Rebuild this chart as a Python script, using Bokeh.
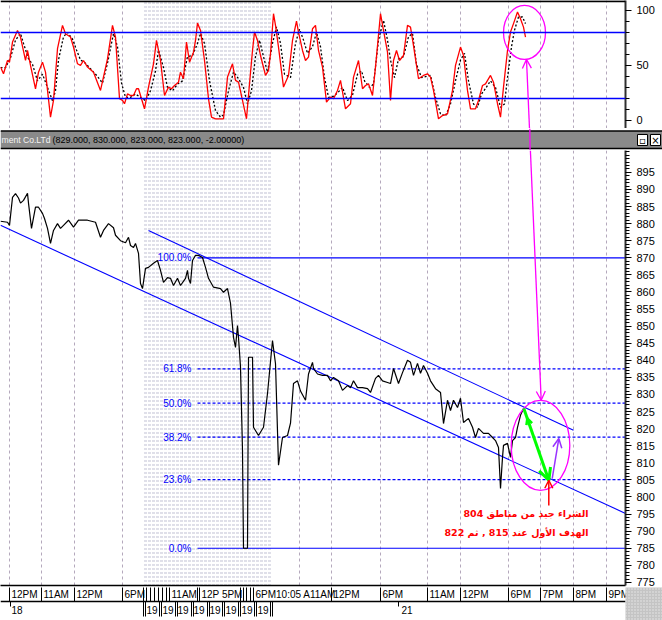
from bokeh.plotting import figure
from bokeh.models import Range1d, FixedTicker, Grid, Span, Arrow, OpenHead, LinearAxis
from bokeh.layouts import column
from bokeh.embed import file_html
from bokeh.resources import INLINE
from bokeh.core.properties import value

# ---------------- data ----------------
# price series (bar position, close)
price_x = [0, 7, 9, 12, 15, 18, 20, 23, 27, 28, 31, 35, 38, 42, 44, 47, 50, 53, 57, 60, 63, 68, 73, 78, 87, 95,
           100, 103, 108, 113, 115, 120, 125, 128, 130, 133, 135, 138, 140, 142, 145, 148, 153, 157, 160, 163,
           167, 170, 173, 177, 180, 185, 187, 188, 190, 192, 195, 198, 202, 205, 208, 213, 220, 223, 227, 230,
           233, 235, 237, 238, 240, 242, 243, 247, 248, 252, 253, 258, 263, 267, 272, 275, 278, 282, 287, 290,
           293, 297, 300, 305, 308, 312, 313, 317, 322, 327, 330, 333, 338, 342, 347, 350, 353, 357, 362, 367,
           370, 375, 378, 382, 387, 390, 393, 398, 402, 407, 410, 413, 417, 420, 423, 427, 430, 435, 440, 443,
           447, 450, 453, 457, 460, 463, 468, 472, 475, 478, 483, 488, 492, 495, 498, 500, 502, 503, 507, 510,
           512, 515, 517, 520, 523, 525]
price_y = [880.7, 880.4, 879.5, 887.7, 888.8, 887.5, 886.0, 886.8, 888.9, 886.0, 878.6, 884.8, 884.8, 883.0,
           881.5, 878.6, 874.2, 878.0, 880.0, 878.6, 879.5, 881.0, 879.0, 881.0, 881.0, 880.4, 876.0, 878.0,
           880.0, 878.8, 876.6, 875.0, 874.4, 876.0, 873.6, 873.0, 874.2, 871.3, 862.5, 861.0, 866.9, 867.2,
           868.4, 869.2, 866.3, 862.8, 864.2, 864.0, 861.9, 864.0, 861.9, 864.0, 866.3, 864.0, 862.5, 869.2,
           870.7, 870.7, 870.1, 867.2, 864.0, 861.4, 861.0, 859.9, 861.0, 856.7, 846.7, 843.8, 850.2, 846.7,
           838.0, 813.6, 785.0, 785.0, 840.9, 840.9, 820.4, 818.0, 820.4, 830.3, 845.8, 839.0, 809.3, 817.4,
           818.0, 821.6, 833.2, 834.0, 831.0, 828.3, 836.0, 839.4, 837.6, 836.0, 835.6, 835.6, 834.0, 835.0,
           834.0, 831.2, 832.6, 832.0, 834.0, 832.0, 832.0, 831.7, 830.6, 834.7, 835.6, 834.0, 833.5, 833.2,
           837.6, 833.2, 836.4, 840.0, 839.4, 835.6, 839.1, 836.2, 838.5, 836.2, 834.0, 831.7, 830.6, 821.5,
           828.3, 825.3, 828.3, 826.2, 828.9, 821.8, 823.0, 820.4, 817.4, 820.1, 818.6, 818.6, 817.4, 816.5,
           814.5, 802.5, 811.6, 815.1, 815.7, 811.6, 816.5, 817.4, 820.4, 823.9, 825.9, 824.4]

# stochastic %K (red) and %D (black dashed)
k_x = [0, 3, 7, 9, 12, 17, 20, 25, 27, 30, 35, 38, 42, 45, 50, 53, 57, 62, 65, 70, 73, 77, 80, 83, 87, 93, 100,
       107, 112, 115, 119, 122, 124, 127, 130, 133, 136, 138, 141, 144, 148, 153, 156, 160, 164, 168, 171, 174,
       178, 180, 183, 186, 189, 193, 195, 197, 200, 204, 208, 211, 215, 223, 227, 232, 235, 238, 242, 246, 249,
       252, 254, 257, 260, 265, 268, 270, 273, 275, 278, 283, 288, 292, 296, 298, 302, 305, 308, 312, 315, 318,
       322, 326, 330, 333, 337, 340, 345, 350, 353, 358, 362, 365, 368, 372, 375, 380, 383, 387, 390, 393, 396,
       399, 403, 407, 410, 413, 418, 423, 427, 430, 433, 438, 442, 447, 452, 455, 460, 463, 467, 470, 475, 478,
       482, 485, 490, 493, 497, 500, 503, 507, 510, 513, 517, 520, 523, 525]
k_v = [48.5, 42.4, 54.5, 53.0, 71.2, 81.8, 75.8, 54.5, 63.6, 50.0, 28.8, 43.9, 53.0, 43.9, 3.0, 18.2, 65.2, 86.4,
       78.8, 75.8, 66.7, 51.5, 50.0, 54.5, 48.5, 43.9, 27.3, 56.0, 86.4, 75.8, 19.7, 18.2, 15.2, 24.2, 22.7, 22.7,
       28.8, 28.8, 19.7, 10.6, 30.3, 51.5, 72.7, 54.5, 22.7, 30.3, 28.8, 31.8, 34.8, 43.9, 37.9, 71.2, 53.0, 62.0,
       72.7, 88.5, 81.8, 54.5, 19.7, 3.0, 1.5, 1.5, 39.4, 51.5, 36.4, 34.8, 18.2, 1.5, 33.3, 63.6, 80.3, 72.7, 59.0,
       40.9, 45.5, 60.6, 97.0, 86.4, 66.7, 30.3, 40.9, 72.7, 90.3, 80.3, 63.6, 54.5, 57.6, 83.3, 86.4, 63.6, 48.5,
       16.7, 21.2, 19.7, 27.3, 36.4, 10.6, 15.2, 39.4, 54.5, 28.8, 31.8, 33.3, 22.7, 48.5, 97.0, 81.8, 62.0, 18.2,
       54.5, 63.6, 54.5, 59.0, 86.4, 84.8, 68.0, 37.9, 40.9, 42.4, 39.4, 27.3, 1.5, 4.5, 6.0, 27.3, 50.0, 66.7,
       59.0, 27.3, 10.6, 10.6, 18.2, 31.8, 33.3, 40.9, 34.8, 15.2, 3.0, 30.3, 63.6, 80.3, 88.0, 98.5, 92.4, 84.8,
       75.8]
d_x = [0, 5, 10, 15, 20, 23, 28, 32, 37, 42, 47, 52, 55, 58, 63, 67, 72, 76, 80, 85, 90, 97, 102, 107, 113, 117,
       121, 125, 130, 135, 140, 145, 150, 155, 158, 163, 167, 172, 177, 182, 187, 192, 197, 200, 204, 209, 215,
       220, 223, 228, 233, 238, 243, 247, 251, 255, 259, 263, 267, 272, 276, 280, 284, 290, 295, 299, 303, 307,
       312, 316, 320, 324, 328, 333, 337, 342, 347, 352, 357, 361, 364, 369, 373, 378, 383, 387, 390, 394, 398,
       403, 408, 412, 416, 421, 430, 435, 440, 445, 450, 455, 460, 464, 468, 473, 477, 481, 485, 490, 495, 500,
       504, 507, 511, 514, 518, 522, 525]
d_v = [48, 48, 57, 73, 79, 70, 56, 51, 36, 42, 30, 18, 27, 55, 76, 80, 74, 64, 55, 52, 47, 40, 34, 52, 79, 67,
       34, 21, 21, 24, 21, 18, 27, 45, 64, 48, 30, 27, 33, 36, 58, 59, 70, 79, 70, 36, 9, 3, 5, 27, 44, 38, 30,
       15, 27, 58, 73, 58, 44, 70, 85, 70, 42, 39, 70, 83, 73, 61, 67, 80, 67, 39, 21, 22, 25, 30, 18, 23, 42, 45,
       36, 30, 33, 73, 91, 73, 55, 39, 56, 58, 76, 79, 51, 39, 41, 21, 6, 4, 15, 36, 55, 61, 36, 15, 12, 24, 29,
       36, 30, 12, 15, 39, 67, 82, 94, 94, 88]
osc_levels = [80, 20]

# trend channel
lower_x = [0, 625]
lower_y = [879.5, 795.2]
upper_x = [148, 573]
upper_y = [878.0, 819.5]

# fibonacci retracement
fib_labels = ["100.0%", "61.8%", "50.0%", "38.2%", "23.6%", "0.0%"]
fib_prices = [870.0, 837.5, 827.5, 817.5, 805.1, 785.0]
fib_solid = [True, False, False, False, False, True]
fib_x0, fib_x1 = 197, 625

# time axis
grid_x = [9, 41, 74, 122, 299, 331, 380, 427, 460, 508, 540, 573, 606]
shade_span = [143, 271]
row1_labels = ["12PM", "11AM", "12PM", "6PM", "11AM", "12P 5PM", "6PM10:05 A11AM", "12PM", "6PM",
               "11AM", "12PM", "6PM", "7PM", "8PM", "9PM"]
row1_pos = [11, 43, 76, 124, 171, 201, 255, 333, 382, 429, 462, 510, 542, 575, 608]
row1_seps = [9, 41, 74, 122, 143, 146, 150, 154, 158, 162, 166, 169, 197, 199, 240, 243, 246, 250, 253,
             331, 380, 427, 460, 508, 540, 573, 606]
row2_labels = ["18", "19", "19", "19", "19", "19", "19", "19", "19", "21"]
row2_pos = [11, 146, 162, 177, 193, 209, 225, 241, 257, 401]
row2_seps = [143, 145, 159, 161, 175, 177, 191, 193, 207, 209, 222, 224, 238, 240, 254, 256, 270, 272]
row2_ticks = [10, 398]

price_ticks = list(range(775, 900, 5))
title_name = "ment Co.LTd"
title_values = "(829.000, 830.000, 823.000, 823.000, -2.00000)"

note_lines = ["الشراء جيد من مناطق 804", "الهدف الأول عند 815 , ثم 822"]
note_y = [795.2, 789.6]
note_x = 588

# annotations (data coordinates)
green_arrow = (523.3, 825.9, 548.3, 804.9)
purple_arrow = (551.7, 805.4, 558.3, 817.1)
red_arrow = (548.3, 797.5, 548.3, 804.9)
main_ellipse = (540, 815.1, 58.6, 26.3)
osc_ellipse = (524, 80, 42, 49)
link_main = (529.9, 901.4, 540.7, 828.3)
link_osc = (529.0, -7.3, 526.0, 55.5)

# ---------------- styling ----------------
FW = 625
RB = 37
BLUE = "#0000ff"
MAG = "#ff00ff"
GRIDC = "#b4a8bc"
XR = (0, 625)
FONT = "Liberation Sans"


def base(fh, yr, right_axis=True, fw=FW, xr=XR, rb=RB):
    p = figure(frame_width=fw, frame_height=fh, x_range=Range1d(*xr), y_range=Range1d(*yr),
               x_axis_location=None, y_axis_location="right" if right_axis else None,
               output_backend="svg", toolbar_location=None,
               min_border_left=0, min_border_right=rb, min_border_top=0, min_border_bottom=0,
               outline_line_color=None, background_fill_color="white", border_fill_color="white")
    for g in p.grid:
        g.visible = False
    return p


def shade(p, y0, y1):
    p.quad(left=[shade_span[0]], right=[shade_span[1]], bottom=[y0], top=[y1], fill_color=None,
           line_color=None, hatch_pattern="horizontal_dash", hatch_color="#b0b0c8", hatch_scale=4,
           hatch_weight=1, hatch_alpha=0.8)


def vgrid(p):
    p.add_layout(Grid(dimension=0, ticker=FixedTicker(ticks=grid_x), grid_line_color=GRIDC,
                      grid_line_dash="3 3", grid_line_width=1))


def style_axis(ax, major, minor):
    ax.ticker = FixedTicker(ticks=major, minor_ticks=minor)
    ax.axis_line_color = "#303030"
    ax.axis_line_width = 2
    ax.major_tick_line_color = "black"
    ax.minor_tick_line_color = "black"
    ax.major_tick_out = 6
    ax.major_tick_in = 0
    ax.minor_tick_out = 4
    ax.minor_tick_in = 0
    ax.major_label_standoff = 5
    ax.major_label_text_font = FONT
    ax.major_label_text_font_size = "11px"
    ax.major_label_text_color = "black"


# ---------------- oscillator panel ----------------
OSC_Y = (-7.3, 109)
osc = base(128, OSC_Y)
shade(osc, OSC_Y[0], OSC_Y[1])
vgrid(osc)
for lv in osc_levels:
    osc.add_layout(Span(location=lv, dimension="width", line_color=BLUE, line_width=1.5))
osc.add_layout(Span(location=108.4, dimension="width", line_color="black", line_width=2))
osc.line(d_x, d_v, line_color="black", line_width=1.3, line_dash="2 2")
osc.line(k_x, k_v, line_color="#ff0000", line_width=1.3)
ex, ey, ew, eh = osc_ellipse
osc.ellipse(x=[ex], y=[ey], width=[ew], height=[eh], fill_color=None, line_color=MAG, line_width=1.3)
osc.add_layout(Arrow(end=OpenHead(size=9, line_color=MAG, line_width=1.3), x_start=link_osc[0],
                     y_start=link_osc[1], x_end=link_osc[2], y_end=link_osc[3], line_color=MAG,
                     line_width=1.3))
style_axis(osc.yaxis[0], [0, 50, 100], list(range(0, 101, 10)))

# ---------------- title bar ----------------
bar = base(22, (22, 0), right_axis=False, fw=FW + RB, xr=(0, 662), rb=0)
bar.quad(left=[0], right=[662], top=[2.5], bottom=[20], fill_color="#8a8a8a", line_color=None)
bar.segment(x0=[0, 0], y0=[2.5, 20], x1=[662, 662], y1=[2.5, 20], line_color="black", line_width=1.5)
bar.text(x=[1], y=[11.5], text=[title_name], text_font=value(FONT), text_font_size="8.6px",
         text_color="#f4f4f4", text_baseline="middle")
bar.text(x=[52], y=[11.5], text=[title_values], text_font=value(FONT), text_font_size="9px",
         text_color="black", text_baseline="middle")
bar.quad(left=[637, 650], right=[647, 660], top=[6, 6], bottom=[17, 17], fill_color="white",
         line_color="black", line_width=1)
bar.text(x=[642, 655], y=[11.5, 11.5], text=["▫", "×"], text_font=value("DejaVu Sans"),
         text_font_size="10px", text_color="black", text_align="center", text_baseline="middle")
bar.segment(x0=[529.3], y0=[0], x1=[529.6], y1=[22], line_color=MAG, line_width=1.3)

# ---------------- price panel ----------------
PY = (774.1, 901.4)
main = base(435, PY)
main.min_border_bottom = 2
bottom_axis = LinearAxis(ticker=FixedTicker(ticks=[]), axis_line_color="black", axis_line_width=1.5,
                         major_label_text_font_size="0px", major_label_standoff=0,
                         major_tick_out=0, minor_tick_out=0)
main.add_layout(bottom_axis, "below")
shade(main, PY[0], PY[1])
vgrid(main)
main.line(lower_x, lower_y, line_color=BLUE, line_width=1.1)
main.line(upper_x, upper_y, line_color=BLUE, line_width=1.1)
for lab, pr, solid in zip(fib_labels, fib_prices, fib_solid):
    main.line([fib_x0, fib_x1], [pr, pr], line_color=BLUE, line_width=1.2,
              line_dash="solid" if solid else "3 2")
main.text(x=[fib_x0 - 6] * len(fib_labels), y=fib_prices, text=fib_labels, text_font=value(FONT),
          text_font_size="10px", text_color=BLUE, text_align="right", text_baseline="middle")
main.line(price_x, price_y, line_color="black", line_width=1.2)

mx, my, mw, mh = main_ellipse
main.ellipse(x=[mx], y=[my], width=[mw], height=[mh], fill_color=None, line_color=MAG, line_width=1.3)
main.add_layout(Arrow(end=OpenHead(size=9, line_color=MAG, line_width=1.3), x_start=link_main[0],
                      y_start=link_main[1], x_end=link_main[2], y_end=link_main[3], line_color=MAG,
                      line_width=1.3))
gx0, gy0, gx1, gy1 = green_arrow
main.add_layout(Arrow(end=OpenHead(size=12, line_color="#00ff00", line_width=3), x_start=gx0, y_start=gy0,
                      x_end=gx1, y_end=gy1, line_color="#00ff00", line_width=3))
main.add_layout(Arrow(end=OpenHead(size=6, line_color="#00ff00", line_width=2.5), x_start=gx1, y_start=gy1,
                      x_end=gx0 + 3.5, y_end=gy0 - 2.9, line_color=None, line_width=0))
px0, py0, px1, py1 = purple_arrow
main.add_layout(Arrow(end=OpenHead(size=9, line_color="#9933ff", line_width=1.5), x_start=px0, y_start=py0,
                      x_end=px1, y_end=py1, line_color="#9933ff", line_width=1.5))
rx0, ry0, rx1, ry1 = red_arrow
main.add_layout(Arrow(end=OpenHead(size=8, line_color="#ff0000", line_width=1.5), x_start=rx0, y_start=ry0,
                      x_end=rx1, y_end=ry1, line_color="#ff0000", line_width=1.5))
main.text(x=[note_x] * 2, y=note_y, text=note_lines, text_font=value("DejaVu Sans"), text_font_size="9.5px",
          text_font_style="bold", text_color="#ff0000", text_align="right", text_baseline="middle")
style_axis(main.yaxis[0], price_ticks, list(range(774, 902)))

# ---------------- time axis strip ----------------
strip = base(33, (35, 2), right_axis=False, fw=FW + RB, xr=(0, 662), rb=0)
strip.segment(x0=row1_seps, y0=[0] * len(row1_seps), x1=row1_seps, y1=[16] * len(row1_seps),
              line_color="black", line_width=1)
strip.segment(x0=row2_seps, y0=[16] * len(row2_seps), x1=row2_seps, y1=[31] * len(row2_seps),
              line_color="black", line_width=1)
strip.segment(x0=row2_ticks, y0=[16, 16], x1=row2_ticks, y1=[21, 21], line_color="black", line_width=1)
strip.segment(x0=[0], y0=[16], x1=[625], y1=[16], line_color="black", line_width=1.5)
strip.text(x=row1_pos, y=[9] * len(row1_pos), text=row1_labels, text_font=value(FONT),
           text_font_size="10px", text_color="black", text_baseline="middle")
strip.text(x=row2_pos, y=[24.5] * len(row2_pos), text=row2_labels, text_font=value(FONT),
           text_font_size="10px", text_color="black", text_baseline="middle")
strip.quad(left=[625], right=[662], top=[0], bottom=[35], fill_color="#c4c4c4", line_color=None,
           hatch_pattern="dot", hatch_color="#e8e8e8", hatch_scale=3)

layout = column(osc, bar, main, strip, spacing=0)
open("out.html", "w").write(file_html(layout, INLINE))
